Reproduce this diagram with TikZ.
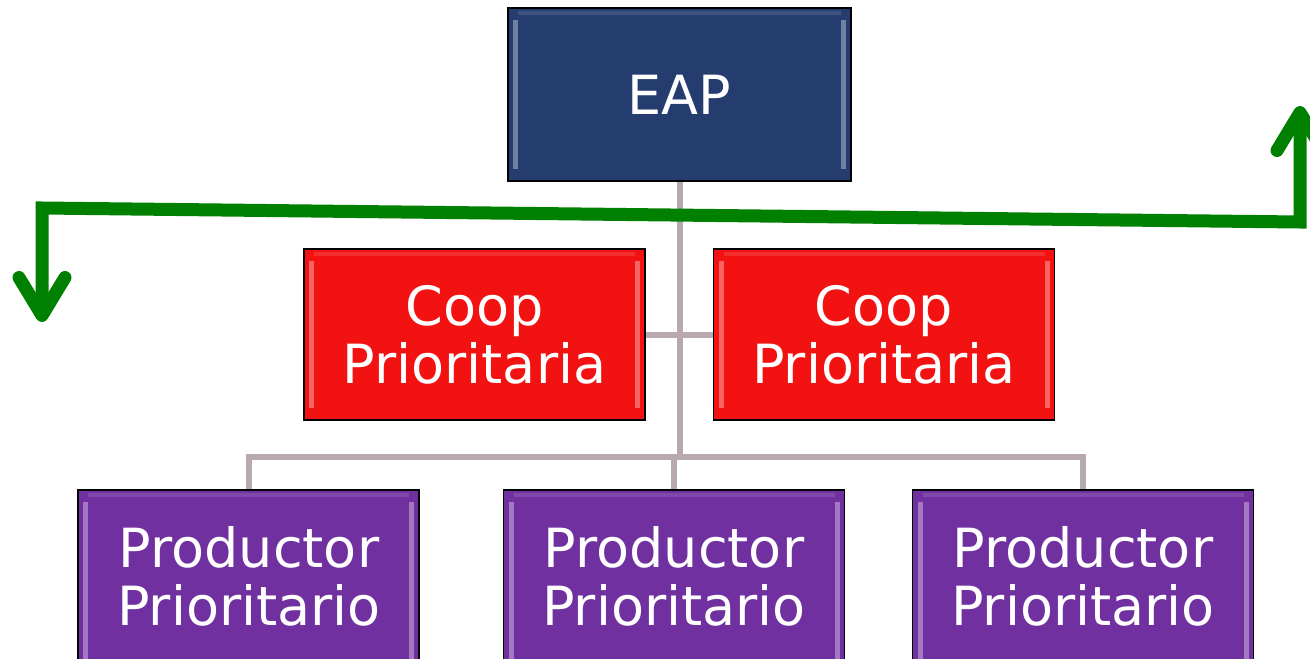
\documentclass[tikz,border=0pt]{standalone}
\usepackage{fontspec}
\setmainfont{DejaVu Sans}
\usetikzlibrary{arrows.meta}
\definecolor{eapblue}{HTML}{243C6E}
\definecolor{coopred}{HTML}{F21212}
\definecolor{prodpurple}{HTML}{7030A0}
\definecolor{linkgray}{HTML}{B8A8B0}
\definecolor{arrowgreen}{HTML}{008000}
\pgfdeclarelayer{background}
\pgfsetlayers{background,main}
\tikzset{
  boxfont/.style={font=\fontsize{54}{58}\selectfont},
  orgbox/.style={draw=black, line width=1.6pt, inner sep=0pt, text=white, align=center, boxfont,
    path picture={
      \fill[white,opacity=.35] ([xshift=5pt,yshift=-12pt]path picture bounding box.north west) rectangle ([xshift=10pt,yshift=12pt]path picture bounding box.south west);
      \fill[white,opacity=.35] ([xshift=-10pt,yshift=-12pt]path picture bounding box.north east) rectangle ([xshift=-5pt,yshift=12pt]path picture bounding box.south east);
      \fill[white,opacity=.12] ([xshift=10pt,yshift=-3pt]path picture bounding box.north west) rectangle ([xshift=-10pt,yshift=-7pt]path picture bounding box.north east);
    }},
  eapbox/.style={orgbox, fill=eapblue, minimum width=343pt, minimum height=173pt},
  coopbox/.style={orgbox, fill=coopred, minimum width=341pt, minimum height=171pt},
  prodbox/.style={orgbox, fill=prodpurple, minimum width=341pt, minimum height=190pt},
  prodtext/.style={text=white, align=center, boxfont},
  link/.style={draw=linkgray, line width=6pt},
  greenarrow/.style={draw=arrowgreen, line width=13pt, line join=miter,
    {Straight Barb[length=38pt, width=46pt, round]}-{Straight Barb[length=38pt, width=46pt, round]}}
}
\begin{document}
\begin{tikzpicture}[x=1pt, y=-1pt]
\useasboundingbox (0,0) rectangle (1310,659);
\clip (0,0) rectangle (1310,659);
% nodes
\node[eapbox] (eap) at (679.5,94.5) {EAP};
\node[coopbox] (coopL) at (474.5,334.5) {Coop\\Prioritaria};
\node[coopbox] (coopR) at (884,334.5) {Coop\\Prioritaria};
\node[prodbox] (p1) at (248.5,585) {};
\node[prodbox] (p2) at (674,585) {};
\node[prodbox] (p3) at (1083,585) {};
\node[prodtext] (t1) at (249,576) {Productor\\Prioritario};
\node[prodtext] (t2) at (674,576) {Productor\\Prioritario};
\node[prodtext] (t3) at (1083,576) {Productor\\Prioritario};
\coordinate (bus) at (679,457);
% connectors (under the boxes)
\begin{pgfonlayer}{background}
\fill[white] (0,0) rectangle (1310,659);
\draw[link] (eap.south) -- (eap.south |- bus);
\draw[link] (coopL.east) -- (coopR.west);
\draw[link] (p1.north) |- (p3.north |- bus) -- (p3.north);
\draw[link] (p2.north) -- (p2.north |- bus);
\end{pgfonlayer}
% green arrow
\coordinate (gl) at (42,208);
\coordinate (gr) at (1300,222);
\coordinate (gltip) at (42,322);
\coordinate (grtip) at (1300,106);
\draw[greenarrow] (gltip) -- (gl) -- (gr) -- (grtip);
\end{tikzpicture}
\end{document}
